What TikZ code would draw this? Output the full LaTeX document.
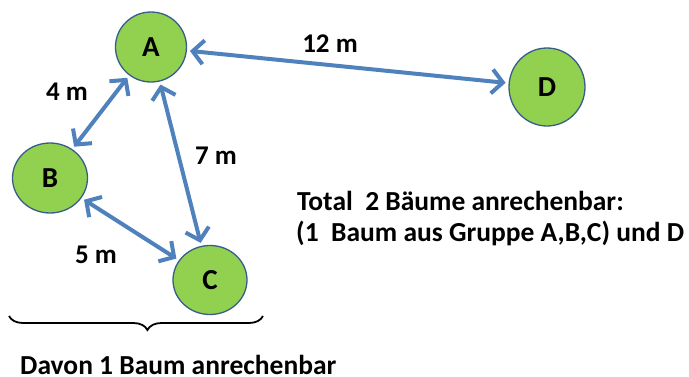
\documentclass[tikz,border=0pt]{standalone}
\usepackage{fontspec}
\setmainfont{Carlito}
\usetikzlibrary{arrows.meta,decorations.pathreplacing,shapes.geometric}
\definecolor{treefill}{RGB}{146,208,80}
\definecolor{treeedge}{RGB}{56,93,138}
\definecolor{arrowblue}{RGB}{79,129,189}
\tikzset{
  tree/.style={ellipse, draw=treeedge, line width=1.3pt, fill=treefill, inner sep=0pt, font=\fontsize{29}{32}\selectfont\bfseries},
  link/.style={draw=arrowblue, line width=4pt, {Straight Barb[length=11pt,width=24pt,line width=4pt]}-{Straight Barb[length=11pt,width=24pt,line width=4pt]}, shorten <=3pt, shorten >=3pt},
  lbl/.style={font=\fontsize{27}{30}\selectfont\bfseries, inner sep=0pt},
  txt/.style={font=\fontsize{27.5}{32}\selectfont\bfseries, inner sep=0pt}
}
\begin{document}
\begin{tikzpicture}[x=1pt,y=-1pt]
\useasboundingbox (0,0) rectangle (689,376);
\node[tree, minimum width=71pt, minimum height=70pt] (A) at (151,47) {A};
\node[tree, minimum width=75pt, minimum height=70pt] (B) at (50,178) {B};
\node[tree, minimum width=74pt, minimum height=69pt] (C) at (210,280) {C};
\node[tree, minimum width=76pt, minimum height=78pt] (D) at (547,87) {D};
\draw[link] (A) -- (D);
\draw[link] (A) -- (B);
\draw[link] (A) -- (C);
\draw[link] (B) -- (C);
\node[lbl] (l12) at (330,44) {12 m};
\node[lbl] (l4) at (67,92) {4 m};
\node[lbl] (l7) at (216,156) {7 m};
\node[lbl] (l5) at (96,255) {5 m};
\node[txt, anchor=base west] (t1) at (297,210) {Total\ \ 2 Bäume anrechenbar:};
\node[txt, anchor=base west] (t2) at (296,241) {(1\ \ Baum aus Gruppe A,B,C) und D};
\coordinate (bl) at (9,316);
\coordinate (br) at (263,316);
\draw[line width=1.8pt, decorate, decoration={brace, mirror, amplitude=14pt, aspect=0.545}] (bl) -- (br);
\node[txt, anchor=base west] (t3) at (20,374) {Davon 1 Baum anrechenbar};
\end{tikzpicture}
\end{document}
